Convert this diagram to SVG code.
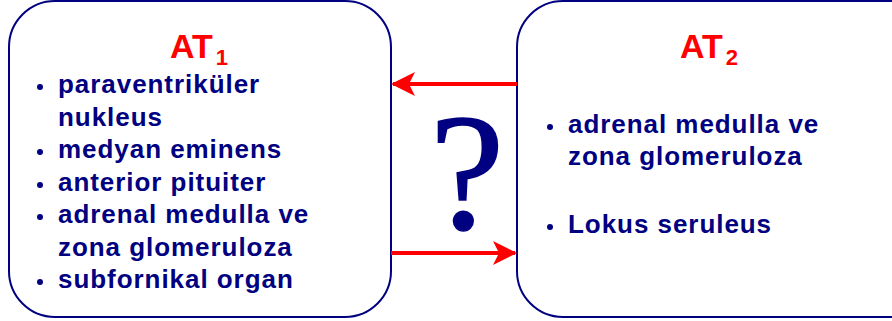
<svg xmlns="http://www.w3.org/2000/svg" width="892" height="321" viewBox="0 0 892 321">
  <style>
    .box { fill: #ffffff; stroke: #000080; stroke-width: 2; }
    .title { font-family: "Liberation Sans", Arial, sans-serif; font-weight: bold; fill: #ff0000; font-size: 34px; }
    .sub { font-size: 22px; }
    .item { font-family: "Liberation Sans", Arial, sans-serif; font-weight: bold; fill: #000080; font-size: 26px; letter-spacing: 0.95px; }
    .dot { fill: #000080; }
    .link { stroke: #ff0000; stroke-width: 4; fill: none; }
    .q { font-family: "Liberation Serif", "Times New Roman", serif; fill: #000080; stroke: #000080; stroke-width: 1.5; font-size: 168px; }
  </style>
  <defs>
    <marker id="head" viewBox="0 0 24 24" refX="22" refY="12" markerWidth="24" markerHeight="24" markerUnits="userSpaceOnUse" orient="auto">
      <path d="M0,0 L24,12 L0,24 L6,12 Z" fill="#ff0000"/>
    </marker>
  </defs>

  <rect width="892" height="321" fill="#ffffff"/>

  <g id="at1">
    <rect class="box" x="9" y="1" width="382" height="316" rx="46" ry="46"/>
    <text class="title" x="170" y="58">AT<tspan class="sub" dx="3" dy="7">1</tspan></text>
    <circle class="dot" cx="40" cy="87" r="3"/>
    <text class="item" x="58" y="93">paraventriküler</text>
    <text class="item" x="58" y="126">nukleus</text>
    <circle class="dot" cx="40" cy="152" r="3"/>
    <text class="item" x="58" y="158">medyan eminens</text>
    <circle class="dot" cx="40" cy="185" r="3"/>
    <text class="item" x="58" y="191">anterior pituiter</text>
    <circle class="dot" cx="40" cy="217" r="3"/>
    <text class="item" x="58" y="223">adrenal medulla ve</text>
    <text class="item" x="58" y="256">zona glomeruloza</text>
    <circle class="dot" cx="40" cy="282" r="3"/>
    <text class="item" x="58" y="288">subfornikal organ</text>
  </g>

  <g id="at2">
    <rect class="box" x="517" y="1" width="420" height="316" rx="46" ry="46"/>
    <text class="title" x="680" y="58">AT<tspan class="sub" dx="3" dy="7">2</tspan></text>
    <circle class="dot" cx="550" cy="127" r="3"/>
    <text class="item" x="568" y="133">adrenal medulla ve</text>
    <text class="item" x="568" y="165">zona glomeruloza</text>
    <circle class="dot" cx="550" cy="227" r="3"/>
    <text class="item" x="568" y="233">Lokus seruleus</text>
  </g>

  <g id="links">
    <line class="link" x1="517" y1="84" x2="393" y2="84" marker-end="url(#head)"/>
    <line class="link" x1="391" y1="253" x2="515" y2="253" marker-end="url(#head)"/>
  </g>

  <g id="question">
    <text class="q" x="467" y="229" text-anchor="middle">?</text>
  </g>
</svg>
